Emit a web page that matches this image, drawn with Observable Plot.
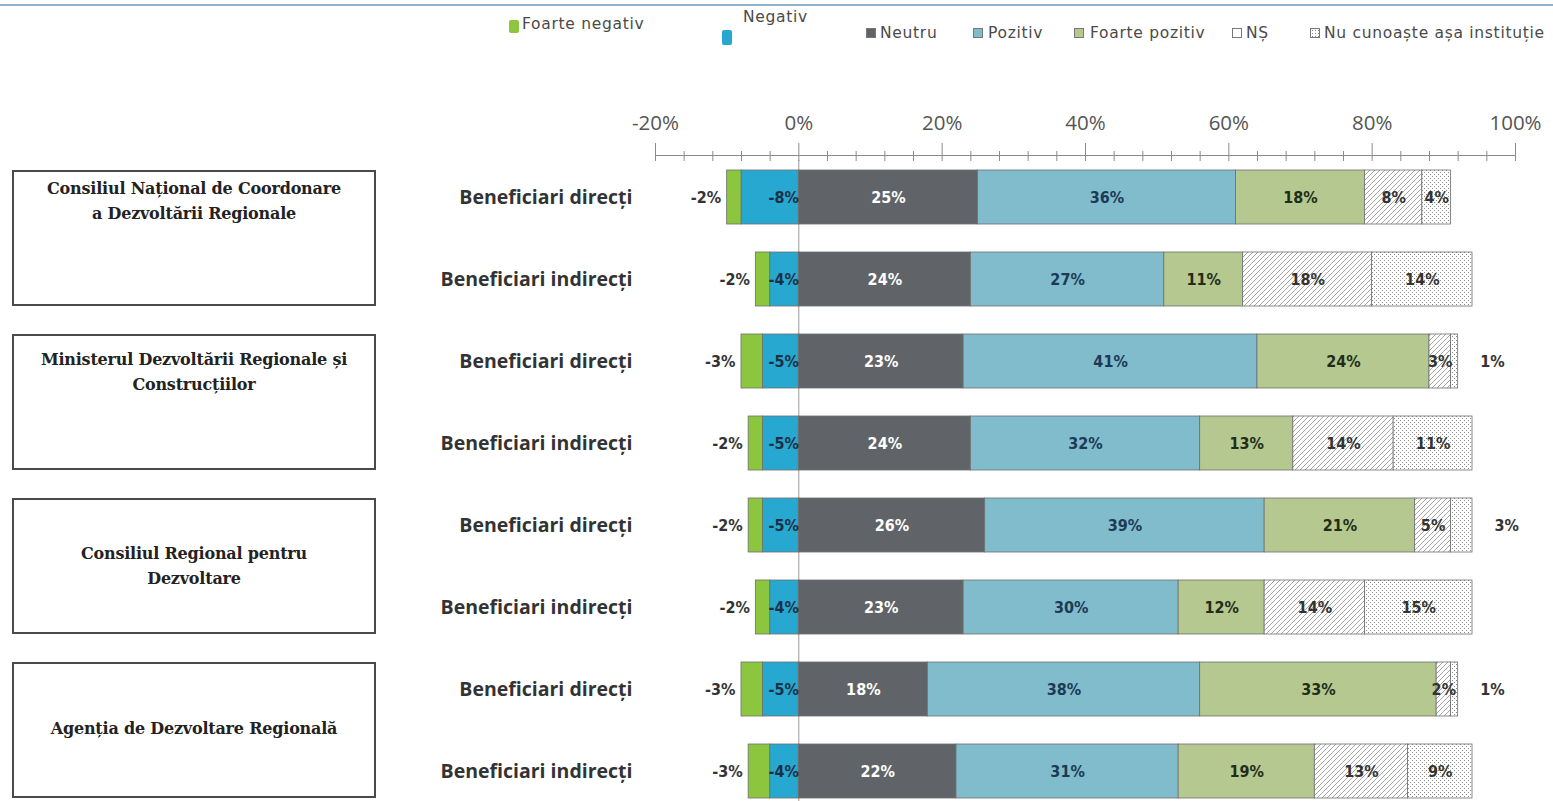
<!DOCTYPE html>
<html><head><meta charset="utf-8">
<script src="https://cdn.jsdelivr.net/npm/d3@7"></script>
<script src="https://cdn.jsdelivr.net/npm/@observablehq/plot@0.6"></script>
<style>
body{margin:0;background:#fff;width:1553px;height:801px;overflow:hidden;position:relative;font-family:Lato,"Open Sans",sans-serif}
#topline{position:absolute;left:0;top:4px;width:1553px;height:2px;background:#8fb2d0}
#legend{position:relative;height:60px;width:1553px}
.li{position:absolute;font-family:"DejaVu Sans",sans-serif;font-size:15.5px;letter-spacing:0.7px;color:#4a4a4a;white-space:nowrap;line-height:16px}
.sw{position:absolute;width:10px;height:10px;box-sizing:border-box}
#chart{position:absolute;left:0;top:60px}
.box{position:absolute;border:2px solid #4a4a4a;box-sizing:border-box;text-align:center;font-family:"DejaVu Serif","Liberation Serif",serif;font-weight:bold;font-size:16px;color:#222;line-height:25px;background:#fff;letter-spacing:-0.2px}
</style></head><body>
<div id="topline"></div>
<div id="legend"></div>
<div id="chart"></div>
<script>
// ---- data ----
const groups = [
  "Consiliul Național de Coordonare a Dezvoltării Regionale",
  "Ministerul Dezvoltării Regionale și Construcțiilor",
  "Consiliul Regional pentru Dezvoltare",
  "Agenția de Dezvoltare Regională"
];
const groupLines = [
  ["Consiliul Național de Coordonare", "a Dezvoltării Regionale"],
  ["Ministerul Dezvoltării Regionale și", "Construcțiilor"],
  ["Consiliul Regional pentru", "Dezvoltare"],
  ["Agenția de Dezvoltare Regională"]
];
const beneficiaries = ["Beneficiari direcți", "Beneficiari indirecți"];
const categories = ["Foarte negativ", "Negativ", "Neutru", "Pozitiv", "Foarte pozitiv", "NȘ", "Nu cunoaște așa instituție"];
const foarteNegativ = [-2, -2, -3, -2, -2, -2, -3, -3];
const negativ       = [-8, -4, -5, -5, -5, -4, -5, -4];
const neutru        = [25, 24, 23, 24, 26, 23, 18, 22];
const pozitiv       = [36, 27, 41, 32, 39, 30, 38, 31];
const foartePozitiv = [18, 11, 24, 13, 21, 12, 33, 19];
const ns            = [ 8, 18,  3, 14,  5, 14,  2, 13];
const nuCunoaste    = [ 4, 14,  1, 11,  3, 15,  1,  9];
const majorTicks = [-20, 0, 20, 40, 60, 80, 100];

// ---- styles ----
const colors = ["#8cc63f", "#26a8d0", "#606468", "#80bccb", "#b5c88f", "url(#hatch)", "url(#dots)"];
const labelColors = ["#333", "#1d2f45", "#ffffff", "#1c3a55", "#1f2d1a", "#333", "#333"];
const legendPos = [
  {sx:509, sy:20, sh:13, tx:522, ty:16},
  {sx:722, sy:30, sh:15, tx:743, ty:9},
  {sx:866, sy:28, sh:10, tx:880, ty:25},
  {sx:973, sy:28, sh:10, tx:988, ty:25},
  {sx:1074, sy:28, sh:10, tx:1090, ty:25},
  {sx:1232, sy:28, sh:10, tx:1246, ty:25},
  {sx:1310, sy:28, sh:10, tx:1324, ty:25}
];
const boxPadTop = [4, 11, 41, 52];

// ---- build table ----
const series = [foarteNegativ, negativ, neutru, pozitiv, foartePozitiv, ns, nuCunoaste];
const rowKeys = groups.flatMap((g, gi) => beneficiaries.map((b, bi) => `${gi}-${bi}`));
const rowLabel = new Map(rowKeys.map(k => [k, beneficiaries[+k.split("-")[1]]]));
const segs = [];
rowKeys.forEach((key, i) => {
  const n = negativ[i], fn = foarteNegativ[i];
  segs.push({key, ci: 1, x1: n, x2: 0, value: n});
  segs.push({key, ci: 0, x1: n + fn, x2: n, value: fn});
  let c = 0;
  for (let s = 2; s < 7; s++) {
    const v = series[s][i];
    segs.push({key, ci: s, x1: c, x2: c + v, value: v});
    c += v;
  }
});
segs.forEach(d => { d.cat = categories[d.ci]; d.label = d.value + "%"; });

const minorTicks = d3.range(-20, 101, 4).filter(t => !majorTicks.includes(t));
const labelFont = "'Liberation Sans Narrow','DejaVu Sans Condensed',Roboto,sans-serif";
const common = {fontSize: 16, fontWeight: "bold", fontFamily: labelFont};

const plot = Plot.plot({
  width: 1553,
  height: 741,
  marginLeft: 655,
  marginRight: 38,
  marginTop: 100,
  marginBottom: 0,
  x: {domain: [-20, 100]},
  y: {domain: rowKeys, range: [93.7, 754.5], paddingInner: 0.346, paddingOuter: 0.173, align: 0.5},
  color: {type: "ordinal", domain: categories, range: colors},
  style: {background: "transparent"},
  marks: [
    Plot.ruleX([0], {stroke: "#9a9a9a", strokeWidth: 1}),
    Plot.barX(segs, {x1: "x1", x2: "x2", y: "key", fill: "cat", stroke: "#6e6e6e", strokeWidth: 0.8}),
    Plot.frame({anchor: "top", stroke: "#8a8a8a", dy: -5}),
    Plot.axisX({anchor: "top", ticks: majorTicks, tickSize: 18, tickPadding: 13, stroke: "#8a8a8a",
      tickFormat: d => d + "%", fontSize: 20.5, fill: "#555", fontFamily: "'Open Sans', sans-serif", label: null}),
    Plot.axisX({anchor: "top", ticks: minorTicks, tickSize: 10, stroke: "#8a8a8a", tickFormat: () => "", label: null}),
    Plot.axisY({anchor: "left", tickSize: 0, tickPadding: 23, tickFormat: k => rowLabel.get(k),
      fontSize: 19.5, fontWeight: "bold", fill: "#333", fontFamily: "'Open Sans', sans-serif", label: null}),
    // Foarte negativ: left of bar
    Plot.text(segs.filter(d => d.ci === 0), {x: "x1", y: "key", text: "label", textAnchor: "end", dx: -6, fill: labelColors[0], ...common}),
    // Negativ: at zero, right aligned
    Plot.text(segs.filter(d => d.ci === 1), {x: "x2", y: "key", text: "label", textAnchor: "end", dx: 0, fill: labelColors[1], ...common}),
    // centered labels
    Plot.text(segs.filter(d => d.ci >= 2 && !(d.ci === 6 && d.value <= 3)), {
      x: d => (d.x1 + d.x2) / 2, y: "key", text: "label", fill: d => labelColors[d.ci], ...common}),
    // small Nu cunoaște outside
    Plot.text(segs.filter(d => d.ci === 6 && d.value <= 3), {x: "x2", y: "key", text: "label", textAnchor: "start", dx: 22, fill: labelColors[6], ...common})
  ]
});

plot.insertAdjacentHTML("afterbegin", `<defs>
  <pattern id="hatch" patternUnits="userSpaceOnUse" width="5" height="5">
    <rect width="5" height="5" fill="#fff"/>
    <path d="M-1,1 l2,-2 M0,5 l5,-5 M4,6 l2,-2" stroke="#9a9a9a" stroke-width="0.9"/>
  </pattern>
  <pattern id="dots" patternUnits="userSpaceOnUse" width="4" height="4">
    <rect width="4" height="4" fill="#fff"/>
    <rect x="0" y="0" width="1" height="1" fill="#8a8a8a"/>
    <rect x="2" y="2" width="1" height="1" fill="#8a8a8a"/>
  </pattern>
</defs>`);
document.getElementById("chart").appendChild(plot);

// legend
const legend = document.getElementById("legend");
categories.forEach((c, i) => {
  const p = legendPos[i];
  const sw = document.createElement("div");
  sw.className = "sw";
  sw.style.left = p.sx + "px"; sw.style.top = p.sy + "px"; sw.style.height = p.sh + "px";
  if (i < 5) { sw.style.background = colors[i]; if (i < 2) sw.style.borderRadius = "2px"; else sw.style.border = "1px solid #777"; }
  else {
    sw.style.border = "1px solid #777";
    sw.style.background = i === 5 ? "#fff" : "radial-gradient(#888 0.6px, transparent 0.9px) 0 0/3px 3px, #fff";
  }
  legend.appendChild(sw);
  const t = document.createElement("div");
  t.className = "li";
  t.textContent = c;
  t.style.left = p.tx + "px"; t.style.top = p.ty + "px";
  legend.appendChild(t);
});

// group boxes, aligned to the rows via the y scale
const ys = plot.scale("y");
groups.forEach((g, gi) => {
  const top = 60 + ys.apply(`${gi}-0`);
  const bottom = 60 + ys.apply(`${gi}-1`) + ys.bandwidth;
  const box = document.createElement("div");
  box.className = "box";
  box.style.left = "12px"; box.style.width = "364px";
  box.style.top = top + "px"; box.style.height = (bottom - top) + "px";
  box.style.paddingTop = boxPadTop[gi] + "px";
  box.title = g;
  box.innerHTML = groupLines[gi].map(l => `<div>${l}</div>`).join("");
  document.body.appendChild(box);
});
</script>
</body></html>
